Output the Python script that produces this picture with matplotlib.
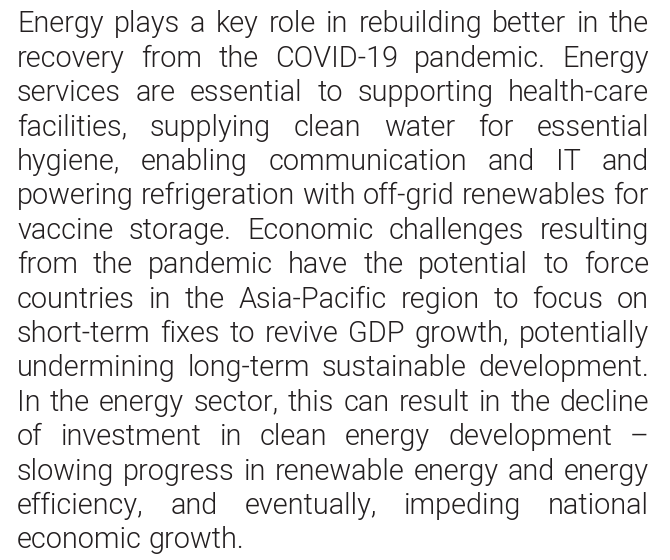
import matplotlib
matplotlib.use("Agg")
import matplotlib.pyplot as plt
from matplotlib import font_manager as fm

lines = [
    "Energy plays a key role in rebuilding better in the",
    "recovery from the COVID-19 pandemic. Energy",
    "services are essential to supporting health-care",
    "facilities, supplying clean water for essential",
    "hygiene, enabling communication and IT and",
    "powering refrigeration with off-grid renewables for",
    "vaccine storage. Economic challenges resulting",
    "from the pandemic have the potential to force",
    "countries in the Asia-Pacific region to focus on",
    "short-term fixes to revive GDP growth, potentially",
    "undermining long-term sustainable development.",
    "In the energy sector, this can result in the decline",
    "of investment in clean energy development \u2013",
    "slowing progress in renewable energy and energy",
    "efficiency, and eventually, impeding national",
    "economic growth.",
]

W, H = 670, 560
left, right = 17, 649
first_base, pitch = 32.3, 34.4
color = "#231f20"

# pick a Roboto Light face
allf = [f for f in fm.fontManager.ttflist if "roboto" in f.name.lower()
        and "italic" not in f.fname.lower() and f.style == "normal"
        and "mono" not in f.name.lower() and "slab" not in f.name.lower()
        and "condensed" not in f.name.lower()]
light = [f for f in allf if "light" in f.fname.lower() and "extra" not in f.fname.lower()]
if not light:
    light = [f for f in allf if f.weight in (300, "light")]
regular = [f for f in allf if f.weight in (400, "normal", "regular")]
chosen = light or regular or allf
base_fp = dict(fname=chosen[0].fname) if chosen else dict(family="Roboto")

fig = plt.figure(figsize=(W / 100, H / 100), dpi=100)
fig.patch.set_facecolor("white")
renderer = fig.canvas.get_renderer()

def width(s, size):
    fp = fm.FontProperties(size=size, **base_fp)
    t = fig.text(0, 0, s, fontproperties=fp)
    w = t.get_window_extent(renderer).width
    t.remove()
    return w

# fit the size so the tightest (naturally spaced) line fills the column
fontsize = min(10 * (right - left) / width(l, 10) for l in lines[:-1])
fp = fm.FontProperties(size=fontsize, **base_fp)

for i, line in enumerate(lines):
    y = 1 - (first_base + i * pitch) / H
    words = line.split(" ")
    ws = [width(w, fontsize) for w in words]
    if i == len(lines) - 1 or len(words) == 1:
        gap = width("a b", fontsize) - width("ab", fontsize)
    else:
        gap = (right - left - sum(ws)) / (len(words) - 1)
    x = left
    for w, wd in zip(words, ws):
        fig.text(x / W, y, w, fontproperties=fp, color=color, va="baseline", ha="left")
        x += wd + gap

fig.savefig("out.png", dpi=100, facecolor="white")
